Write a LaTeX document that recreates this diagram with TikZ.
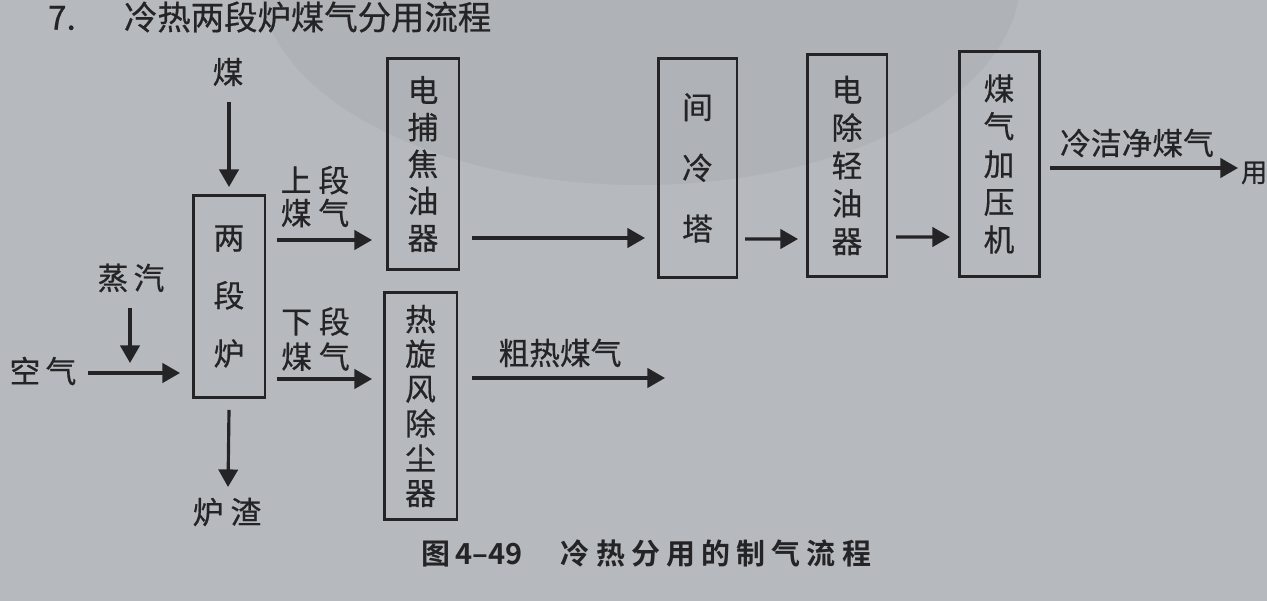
\documentclass[tikz,border=0pt]{standalone}
\usepackage{fontspec}
\setmainfont{Noto Sans CJK SC}[FakeBold=0.6]
\newfontfamily\capfont{Noto Sans CJK SC Bold}
\usetikzlibrary{arrows.meta,calc}
\definecolor{paper}{RGB}{182,186,190}
\definecolor{ink}{RGB}{36,36,38}
\begin{document}
\begin{tikzpicture}[x=0.02cm,y=-0.02cm,
  every node/.style={text=ink,inner sep=0pt,outer sep=0pt},
  lbl/.style={font=\fontsize{17.5pt}{19pt}\selectfont,align=center},
  boxnode/.style={draw=ink,line width=1.7pt,align=center},
  arr/.style={draw=ink,line width=1.8pt,-{Triangle[length=10pt,width=11pt]}}]
\useasboundingbox (0,0) rectangle (1267,601);
\fill[paper] (0,0) rectangle (1267,601);
\begin{scope}
\clip (0,0) rectangle (1267,601);
\fill[black,opacity=0.035] (640,-20) ellipse [x radius=380, y radius=205];
\end{scope}
% title
\node[anchor=west,font=\fontsize{19pt}{22pt}\selectfont] (num) at (48,18) {7.};
\node[anchor=west,font=\fontsize{19pt}{22pt}\selectfont] (title) at (124,17) {冷热两段炉煤气分用流程};
% inputs
\node[lbl] (coal) at (228,72) {煤};
\node[lbl] (steam) at (131,278) {蒸\hspace{3pt}汽};
\node[lbl] (air) at (43,371) {空\hspace{3pt}气};
\node[lbl] (slag) at (227,512) {炉\hspace{4pt}渣};
% boxes
\node[boxnode,minimum width=1.44cm,minimum height=4.06cm,font=\fontsize{17.5pt}{33pt}\selectfont] (lu) at (229,296.5) {两\\段\\炉};
\node[boxnode,minimum width=1.44cm,minimum height=4.24cm,font=\fontsize{17.5pt}{21pt}\selectfont] (dp) at (423,164) {电\\捕\\焦\\油\\器};
\node[boxnode,minimum width=1.46cm,minimum height=4.56cm,font=\fontsize{17.5pt}{19.8pt}\selectfont] (rx) at (420.5,406) {热\\旋\\风\\除\\尘\\器};
\node[boxnode,minimum width=1.58cm,minimum height=4.4cm,font=\fontsize{17.5pt}{34.6pt}\selectfont] (jl) at (697.5,168) {间\\冷\\塔};
\node[boxnode,minimum width=1.6cm,minimum height=4.46cm,font=\fontsize{17.5pt}{21.5pt}\selectfont] (dc) at (847,165.5) {电\\除\\轻\\油\\器};
\node[boxnode,minimum width=1.6cm,minimum height=4.52cm,font=\fontsize{17.5pt}{21.5pt}\selectfont] (jy) at (999,164) {煤\\气\\加\\压\\机};
% labels
\node[lbl,font=\fontsize{17.5pt}{18.7pt}\selectfont] (ug) at (315,196.5) {上\hspace{4pt}段\\煤\hspace{4pt}气};
\node[lbl,font=\fontsize{17.5pt}{20pt}\selectfont] (lg) at (315.5,339) {下\hspace{4pt}段\\煤\hspace{4pt}气};
\node[lbl] (crude) at (560,353) {粗热煤气};
\node[lbl] (clean) at (1137,143) {冷洁净煤气};
\node[lbl,anchor=west,font=\fontsize{15pt}{17pt}\selectfont] (use) at (1241,173) {用};
% caption
\node[anchor=west,font=\capfont\fontsize{16.5pt}{19pt}\selectfont] (cap) at (421,554) {图\hspace{3pt}4–49\hspace{22pt}冷\hspace{3.5pt}热\hspace{3.5pt}分\hspace{3.5pt}用\hspace{3.5pt}的\hspace{3.5pt}制\hspace{3.5pt}气\hspace{3.5pt}流\hspace{3.5pt}程};
% helper coordinates
\coordinate (mix) at (130,373);
\coordinate (yu) at (0,240);
\coordinate (yl) at (0,379);
\coordinate (crudeend) at (665,378);
\coordinate (useend) at (1238,168);
% connectors
\draw[arr] ($(coal)+(1,30)$) -- ($(lu.north)+(0,-8)$);
\draw[arr] ($(steam)+(-1,30)$) -- ($(mix)+(0,-10)$);
\draw[arr] ($(air)+(45,2)$) -- ($(lu.west|-mix)+(-13,0)$);
\draw[arr] ($(lu.south)+(0,12)$) -- ($(slag)+(1,-25)$);
\draw[arr] ($(lu.east|-yu)+(12,0)$) -- ($(dp.west|-yu)+(-15,0)$);
\draw[arr] ($(lu.east|-yl)+(12,0)$) -- ($(rx.west|-yl)+(-12,0)$);
\draw[arr] ($(rx.east|-crudeend)+(15,0)$) -- (crudeend);
\draw[arr] ($(dp.east)+(13,74)$) -- ($(jl.west)+(-13,70)$);
\draw[arr] ($(jl.east)+(8,71)$) -- ($(dc.west)+(-9,73.5)$);
\draw[arr] ($(dc.east)+(9,71.5)$) -- ($(jy.west)+(-9,73)$);
\draw[arr] ($(jy.east)+(11,4)$) -- (useend);
\end{tikzpicture}
\end{document}
